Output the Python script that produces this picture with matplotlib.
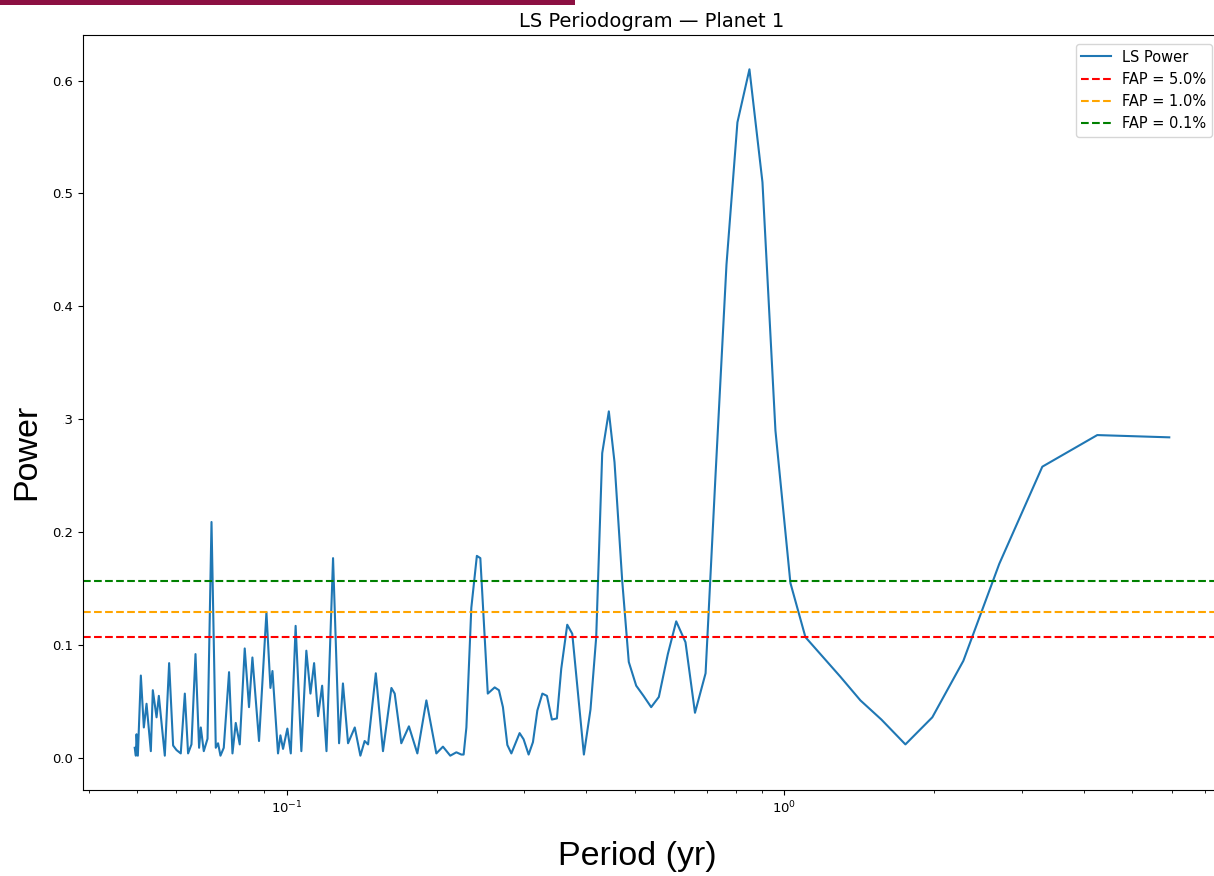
import matplotlib
matplotlib.use("Agg")
import matplotlib.pyplot as plt
from matplotlib.patches import Rectangle

# periods (yr) and LS power
period = [0.0495, 0.04976, 0.04992, 0.05022, 0.05092, 0.05163, 0.05228, 0.05333,
          0.05382, 0.05476, 0.05534, 0.05689, 0.05804, 0.05912, 0.06005, 0.06125,
          0.06241, 0.06336, 0.06436, 0.06557, 0.06667, 0.0672, 0.06813, 0.06932,
          0.07061, 0.07202, 0.07278, 0.0736, 0.07473, 0.07658, 0.0778, 0.07899,
          0.08046, 0.08234, 0.08399, 0.08532, 0.08797, 0.09104, 0.09274, 0.09361,
          0.09605, 0.09712, 0.09831, 0.1003, 0.1019, 0.1042, 0.107, 0.1095,
          0.1116, 0.1135, 0.1156, 0.1178, 0.1202, 0.1239, 0.1274, 0.1297,
          0.1328, 0.137, 0.1406, 0.1434, 0.1457, 0.151, 0.1561, 0.1623,
          0.1648, 0.1699, 0.176, 0.183, 0.1908, 0.1998, 0.206, 0.2131,
          0.2192, 0.2243, 0.2267, 0.2296, 0.2349, 0.241, 0.2449, 0.2535,
          0.2617, 0.2669, 0.2719, 0.2775, 0.2827, 0.2937, 0.2992, 0.3062,
          0.3124, 0.3188, 0.3263, 0.3333, 0.341, 0.349, 0.3561, 0.3661,
          0.3747, 0.3954, 0.4077, 0.4186, 0.4304, 0.4438, 0.4556, 0.4721,
          0.4867, 0.5037, 0.521, 0.5398, 0.5593, 0.5831, 0.6061, 0.6327,
          0.6611, 0.6943, 0.7269, 0.7648, 0.8045, 0.8505, 0.9033, 0.9592,
          1.028, 1.102, 1.192, 1.295, 1.421, 1.566, 1.75, 1.982,
          2.288, 2.702, 3.297, 4.251, 5.932]
power = [0.009, 0.002, 0.021, 0.002, 0.073, 0.027, 0.048, 0.006,
         0.060, 0.036, 0.055, 0.002, 0.084, 0.011, 0.007, 0.004,
         0.057, 0.004, 0.012, 0.092, 0.009, 0.027, 0.006, 0.017,
         0.209, 0.009, 0.013, 0.002, 0.009, 0.076, 0.004, 0.031,
         0.012, 0.097, 0.045, 0.089, 0.015, 0.129, 0.062, 0.077,
         0.004, 0.020, 0.008, 0.026, 0.004, 0.117, 0.006, 0.095,
         0.057, 0.084, 0.037, 0.064, 0.006, 0.177, 0.013, 0.066,
         0.013, 0.027, 0.002, 0.015, 0.012, 0.075, 0.006, 0.062,
         0.057, 0.013, 0.028, 0.004, 0.051, 0.004, 0.010, 0.002,
         0.005, 0.003, 0.003, 0.027, 0.133, 0.179, 0.177, 0.057,
         0.0625, 0.060, 0.045, 0.0115, 0.004, 0.022, 0.0165, 0.003,
         0.014, 0.042, 0.057, 0.055, 0.034, 0.035, 0.079, 0.118,
         0.110, 0.003, 0.043, 0.107, 0.270, 0.307, 0.262, 0.157,
         0.085, 0.064, 0.055, 0.045, 0.054, 0.092, 0.121, 0.1025,
         0.040, 0.075, 0.250, 0.437, 0.563, 0.610, 0.510, 0.290,
         0.155, 0.107, 0.090, 0.072, 0.051, 0.034, 0.012, 0.036,
         0.086, 0.172, 0.258, 0.286, 0.284]

fap_probs = ["5.0%", "1.0%", "0.1%"]
fap_levels = [0.1075, 0.129, 0.157]
fap_colors = ["red", "orange", "green"]

W, H = 1214, 876
fig = plt.figure(figsize=(W / 100, H / 100), dpi=100)
# right spine sits just past the cropped edge, like the screenshot
ax = fig.add_axes([83 / W, 86 / H, (1221 - 83) / W, (790 - 35) / H])

ax.plot(period, power, color="#1f77b4", lw=1.5, label="LS Power")
for p, lvl, c in zip(fap_probs, fap_levels, fap_colors):
    ax.axhline(lvl, color=c, ls="--", lw=1.5, label=f"FAP = {p}")
ax.set_xscale("log")
ax.tick_params(labelsize=9.5)
ax.set_title("LS Periodogram — Planet 1", fontsize=14)
ax.legend(loc="upper right", fontsize=10.5, borderaxespad=0.6)

# big slide labels on top of the figure (the white box hides the old ylabel)
fig.patches.append(Rectangle((0, (H - 515) / H), 63 / W, 122 / H,
                             transform=fig.transFigure, facecolor="white",
                             edgecolor="none", zorder=2))
fig.text(27 / W, 1 - 452 / H, "Power", rotation=90, fontsize=24.5,
         family="Liberation Sans", ha="center", va="center", zorder=3)
fig.text(637 / W, 1 - 856 / H, "Period (yr)", fontsize=24.5,
         family="Liberation Sans", ha="center", va="center", zorder=3)
fig.patches.append(Rectangle((0, 1 - 5 / H), 575 / W, 5 / H,
                             transform=fig.transFigure, facecolor="#8c1042",
                             edgecolor="none", zorder=5))

fig.savefig("out.png", dpi=100)
